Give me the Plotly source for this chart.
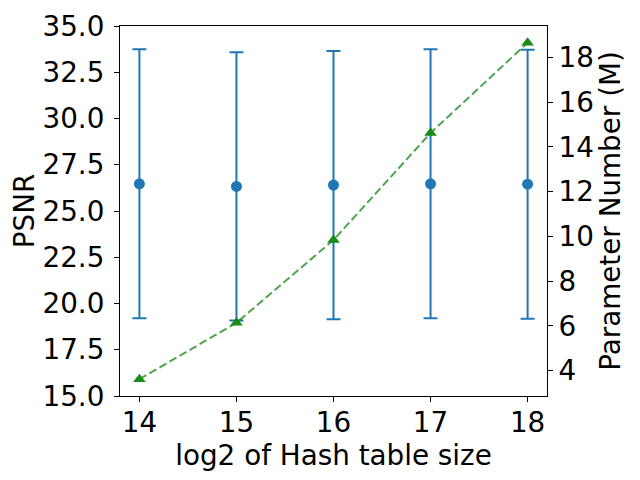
import plotly.graph_objects as go

hash_log2 = [14, 15, 16, 17, 18]
psnr_mean = [26.47, 26.33, 26.40, 26.47, 26.45]
psnr_err = [7.27, 7.25, 7.25, 7.27, 7.27]
param_m = [3.62, 6.14, 9.84, 14.62, 18.65]

FONT = "DejaVu Sans"
FS = 27.8
TFS = 27.8
blue = "#1f77b4"

fig = go.Figure()
fig.add_trace(go.Scatter(
    x=hash_log2, y=psnr_mean, mode="markers",
    marker=dict(color=blue, size=11),
    error_y=dict(type="data", array=psnr_err, visible=True,
                 color=blue, thickness=2, width=7),
    showlegend=False, yaxis="y"))
fig.add_trace(go.Scatter(
    x=hash_log2, y=param_m, mode="lines+markers",
    line=dict(color="rgba(0,128,0,0.7)", width=2, dash="8px,3.6px"),
    marker=dict(symbol="triangle-up", color="rgb(23,140,23)", size=11),
    showlegend=False, yaxis="y2"))

axis_common = dict(
    showline=True, linecolor="black", linewidth=1.1,
    ticks="outside", ticklen=5, tickwidth=1.1, tickcolor="black",
    showgrid=False, zeroline=False, automargin=False,
    tickfont=dict(family=FONT, size=TFS, color="black"),
)

fig.update_layout(
    width=632, height=472,
    margin=dict(l=112, r=93, t=18, b=84),
    plot_bgcolor="white", paper_bgcolor="white",
    font=dict(family=FONT, size=FS, color="black"),
    xaxis=dict(range=[13.8, 18.2], tickvals=hash_log2,
               ticktext=[str(v) for v in hash_log2], mirror=True,
               title=dict(text="log2 of Hash table size",
                          font=dict(family=FONT, size=FS), standoff=0),
               ticklabelstandoff=-3,
               **axis_common),
    yaxis=dict(range=[15, 35], tickvals=[15, 17.5, 20, 22.5, 25, 27.5, 30, 32.5, 35],
               ticktext=["15.0", "17.5", "20.0", "22.5", "25.0", "27.5", "30.0", "32.5", "35.0"],
               title=dict(text="PSNR", font=dict(family=FONT, size=FS), standoff=0),
               ticklabelstandoff=4,
               **axis_common),
    yaxis2=dict(range=[2.87, 19.40], overlaying="y", side="right",
                tickvals=[4, 6, 8, 10, 12, 14, 16, 18],
                title=dict(text="Parameter Number (M)", font=dict(family=FONT, size=FS), standoff=6),
                **axis_common),
)

fig.write_html("out.html")
